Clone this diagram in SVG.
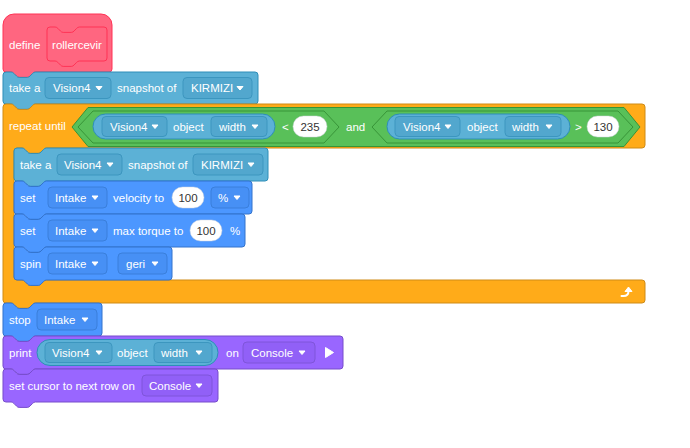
<svg xmlns="http://www.w3.org/2000/svg" width="690" height="448" viewBox="0 0 690 448">
<defs>
<style>
.t{font-family:"Liberation Sans",Arial,Helvetica,sans-serif;font-size:11.5px;fill:#fff}
.n{fill:#333;text-anchor:middle}
.mid{text-anchor:middle}
.blk{stroke-width:1;stroke-linejoin:round}
.pink{fill:#FF6680;stroke:#FF3355}
.vis{fill:#5CB1D6;stroke:#2E8EB8}
.mot{fill:#4C97FF;stroke:#3373CC}
.ctl{fill:#FFAB19;stroke:#CF8B17}
.op{fill:#59C059;stroke:#389438}
.pur{fill:#9966FF;stroke:#774DCB}
.ddv{fill:#52A7CE;stroke:#3C96BF;stroke-width:1}
.ddm{fill:#4790F5;stroke:#3A7FDB;stroke-width:1}
.ddp{fill:#9160F7;stroke:#7F55DA;stroke-width:1}
.num{fill:#fff;stroke:#d0d4dc;stroke-width:.5}
.car{fill:#fff;stroke:#fff;stroke-width:1;stroke-linejoin:round}
</style>
</defs>
<rect width="690" height="448" fill="#fff"/>

<g id="define-rollercevir">
<path class="blk pink" d="M3,25 a11,11 0 0 1 11,-11 H101 a11,11 0 0 1 11,11 V69 a3,3 0 0 1 -3,3 H35.4 c-1.35,0 -2,.7 -2.7,1.35 l-2.7,2.7 c-.7,.7 -1.35,1.35 -2.7,1.35 h-8.1 c-1.35,0 -2,-.7 -2.7,-1.35 l-2.7,-2.7 c-.7,-.7 -1.35,-1.35 -2.7,-1.35 H6 a3,3 0 0 1 -3,-3 Z"/>
<path class="blk pink" d="M47,30 a3,3 0 0 1 3,-3 h5.1 c1.35,0 2,.7 2.7,1.35 l2.7,2.7 c.7,.7 1.35,1.35 2.7,1.35 h8.1 c1.35,0 2,-.7 2.7,-1.35 l2.7,-2.7 c.7,-.7 1.35,-1.35 2.7,-1.35 h24.6 a3,3 0 0 1 3,3 v28 a3,3 0 0 1 -3,3 h-24.6 c-1.35,0 -2,.7 -2.7,1.35 l-2.7,2.7 c-.7,.7 -1.35,1.35 -2.7,1.35 h-8.1 c-1.35,0 -2,-.7 -2.7,-1.35 l-2.7,-2.7 c-.7,-.7 -1.35,-1.35 -2.7,-1.35 h-5.1 a3,3 0 0 1 -3,-3 z"/>
<text class="t" x="9" y="48.5">define</text>
<text class="t mid" x="77" y="48.5">rollercevir</text>
</g>

<g id="take-snapshot-1">
<path class="blk vis" d="M3,75 a3,3 0 0 1 3,-3 h5.1 c1.35,0 2,.7 2.7,1.35 l2.7,2.7 c.7,.7 1.35,1.35 2.7,1.35 h8.1 c1.35,0 2,-.7 2.7,-1.35 l2.7,-2.7 c.7,-.7 1.35,-1.35 2.7,-1.35 h219.6 a3,3 0 0 1 3,3 v26 a3,3 0 0 1 -3,3 h-219.6 c-1.35,0 -2,.7 -2.7,1.35 l-2.7,2.7 c-.7,.7 -1.35,1.35 -2.7,1.35 h-8.1 c-1.35,0 -2,-.7 -2.7,-1.35 l-2.7,-2.7 c-.7,-.7 -1.35,-1.35 -2.7,-1.35 h-5.1 a3,3 0 0 1 -3,-3 z"/>
<text class="t" x="9" y="92">take a</text>
<rect class="ddv" x="45" y="77.5" width="66" height="21" rx="4"/>
<text class="t" x="53" y="92">Vision4</text>
<path class="car" d="M96,86.5 h6 l-3,3.5 z"/>
<text class="t" x="117" y="92">snapshot of</text>
<rect class="ddv" x="183" y="77.5" width="69" height="21" rx="4"/>
<text class="t" x="191" y="92">KIRMIZI</text>
<path class="car" d="M237,86.5 h6 l-3,3.5 z"/>
</g>

<g id="repeat-until">
<path class="blk ctl" d="M3,107 a3,3 0 0 1 3,-3 h5.1 c1.35,0 2,.7 2.7,1.35 l2.7,2.7 c.7,.7 1.35,1.35 2.7,1.35 h8.1 c1.35,0 2,-.7 2.7,-1.35 l2.7,-2.7 c.7,-.7 1.35,-1.35 2.7,-1.35 H642 a3,3 0 0 1 3,3 V145 a3,3 0 0 1 -3,3 H46.4 c-1.35,0 -2,.7 -2.7,1.35 l-2.7,2.7 c-.7,.7 -1.35,1.35 -2.7,1.35 h-8.1 c-1.35,0 -2,-.7 -2.7,-1.35 l-2.7,-2.7 c-.7,-.7 -1.35,-1.35 -2.7,-1.35 H17 a3,3 0 0 0 -3,3 V277 a3,3 0 0 0 3,3 H22.1 c1.35,0 2,.7 2.7,1.35 l2.7,2.7 c.7,.7 1.35,1.35 2.7,1.35 h8.1 c1.35,0 2,-.7 2.7,-1.35 l2.7,-2.7 c.7,-.7 1.35,-1.35 2.7,-1.35 H642 a3,3 0 0 1 3,3 V300 a3,3 0 0 1 -3,3 H35.4 c-1.35,0 -2,.7 -2.7,1.35 l-2.7,2.7 c-.7,.7 -1.35,1.35 -2.7,1.35 h-8.1 c-1.35,0 -2,-.7 -2.7,-1.35 l-2.7,-2.7 c-.7,-.7 -1.35,-1.35 -2.7,-1.35 H6 a3,3 0 0 1 -3,-3 Z"/>
<text class="t" x="9" y="130">repeat until</text>
<path d="M621.5,296 H623.5 Q628.5,296 628.5,291" fill="none" stroke="#fff" stroke-width="2" stroke-linecap="round"/>
<path class="car" d="M625,291.5 L628.5,287 L632,291.5 Z"/>
</g>

<g id="and-condition">
<path class="blk op" d="M72,127 L88,107.5 H624 L640,127 L624,146.5 H88 Z"/>
<path class="blk op" d="M78,127 L93,111 H324 L339,127 L324,143 H93 Z"/>
<path class="blk op" d="M372,127 L387,111 H618 L633,127 L618,143 H387 Z"/>
<rect class="blk vis" x="93" y="114" width="182" height="25" rx="12.5"/>
<rect class="ddv" x="102" y="116.5" width="65" height="20" rx="4"/>
<text class="t" x="110" y="130.5">Vision4</text>
<path class="car" d="M152,125 h6 l-3,3.5 z"/>
<text class="t" x="173" y="130.5">object</text>
<rect class="ddv" x="211" y="116.5" width="56" height="20" rx="4"/>
<text class="t" x="219" y="130.5">width</text>
<path class="car" d="M252,125 h6 l-3,3.5 z"/>
<text class="t" x="282" y="130.5">&lt;</text>
<rect class="num" x="293" y="116" width="34" height="21" rx="10.5"/>
<text class="t n" x="310" y="130.5">235</text>
<text class="t" x="346" y="130.5">and</text>
<rect class="blk vis" x="387" y="114" width="183" height="25" rx="12.5"/>
<rect class="ddv" x="395" y="116.5" width="65" height="20" rx="4"/>
<text class="t" x="403" y="130.5">Vision4</text>
<path class="car" d="M445,125 h6 l-3,3.5 z"/>
<text class="t" x="467" y="130.5">object</text>
<rect class="ddv" x="505" y="116.5" width="56" height="20" rx="4"/>
<text class="t" x="512" y="130.5">width</text>
<path class="car" d="M546,125 h6 l-3,3.5 z"/>
<text class="t" x="575" y="130.5">&gt;</text>
<rect class="num" x="587" y="116" width="32" height="21" rx="10.5"/>
<text class="t n" x="603" y="130.5">130</text>
</g>

<g id="take-snapshot-2">
<path class="blk vis" d="M14,151 a3,3 0 0 1 3,-3 h5.1 c1.35,0 2,.7 2.7,1.35 l2.7,2.7 c.7,.7 1.35,1.35 2.7,1.35 h8.1 c1.35,0 2,-.7 2.7,-1.35 l2.7,-2.7 c.7,-.7 1.35,-1.35 2.7,-1.35 h218.6 a3,3 0 0 1 3,3 v27 a3,3 0 0 1 -3,3 h-218.6 c-1.35,0 -2,.7 -2.7,1.35 l-2.7,2.7 c-.7,.7 -1.35,1.35 -2.7,1.35 h-8.1 c-1.35,0 -2,-.7 -2.7,-1.35 l-2.7,-2.7 c-.7,-.7 -1.35,-1.35 -2.7,-1.35 h-5.1 a3,3 0 0 1 -3,-3 z"/>
<text class="t" x="20" y="168.5">take a</text>
<rect class="ddv" x="57" y="154" width="65" height="21" rx="4"/>
<text class="t" x="64" y="168.5">Vision4</text>
<path class="car" d="M107,163 h6 l-3,3.5 z"/>
<text class="t" x="128" y="168.5">snapshot of</text>
<rect class="ddv" x="193" y="154" width="70" height="21" rx="4"/>
<text class="t" x="201" y="168.5">KIRMIZI</text>
<path class="car" d="M248,163 h6 l-3,3.5 z"/>
</g>

<g id="set-velocity">
<path class="blk mot" d="M14,184 a3,3 0 0 1 3,-3 h5.1 c1.35,0 2,.7 2.7,1.35 l2.7,2.7 c.7,.7 1.35,1.35 2.7,1.35 h8.1 c1.35,0 2,-.7 2.7,-1.35 l2.7,-2.7 c.7,-.7 1.35,-1.35 2.7,-1.35 h202.6 a3,3 0 0 1 3,3 v27 a3,3 0 0 1 -3,3 h-202.6 c-1.35,0 -2,.7 -2.7,1.35 l-2.7,2.7 c-.7,.7 -1.35,1.35 -2.7,1.35 h-8.1 c-1.35,0 -2,-.7 -2.7,-1.35 l-2.7,-2.7 c-.7,-.7 -1.35,-1.35 -2.7,-1.35 h-5.1 a3,3 0 0 1 -3,-3 z"/>
<text class="t" x="20" y="201.5">set</text>
<rect class="ddm" x="48" y="187" width="59" height="21" rx="4"/>
<text class="t" x="55" y="201.5">Intake</text>
<path class="car" d="M92,196 h6 l-3,3.5 z"/>
<text class="t" x="113" y="201.5">velocity to</text>
<rect class="num" x="172" y="187" width="32" height="21" rx="10.5"/>
<text class="t n" x="188" y="201.5">100</text>
<rect class="ddm" x="211" y="187" width="38" height="21" rx="4"/>
<text class="t" x="218" y="201.5">%</text>
<path class="car" d="M234,196 h6 l-3,3.5 z"/>
</g>

<g id="set-torque">
<path class="blk mot" d="M14,217 a3,3 0 0 1 3,-3 h5.1 c1.35,0 2,.7 2.7,1.35 l2.7,2.7 c.7,.7 1.35,1.35 2.7,1.35 h8.1 c1.35,0 2,-.7 2.7,-1.35 l2.7,-2.7 c.7,-.7 1.35,-1.35 2.7,-1.35 h195.6 a3,3 0 0 1 3,3 v27 a3,3 0 0 1 -3,3 h-195.6 c-1.35,0 -2,.7 -2.7,1.35 l-2.7,2.7 c-.7,.7 -1.35,1.35 -2.7,1.35 h-8.1 c-1.35,0 -2,-.7 -2.7,-1.35 l-2.7,-2.7 c-.7,-.7 -1.35,-1.35 -2.7,-1.35 h-5.1 a3,3 0 0 1 -3,-3 z"/>
<text class="t" x="20" y="234.5">set</text>
<rect class="ddm" x="48" y="220" width="59" height="21" rx="4"/>
<text class="t" x="55" y="234.5">Intake</text>
<path class="car" d="M92,229 h6 l-3,3.5 z"/>
<text class="t" x="113" y="234.5">max torque to</text>
<rect class="num" x="190" y="220" width="32" height="21" rx="10.5"/>
<text class="t n" x="206" y="234.5">100</text>
<text class="t" x="230" y="234.5">%</text>
</g>

<g id="spin">
<path class="blk mot" d="M14,250 a3,3 0 0 1 3,-3 h5.1 c1.35,0 2,.7 2.7,1.35 l2.7,2.7 c.7,.7 1.35,1.35 2.7,1.35 h8.1 c1.35,0 2,-.7 2.7,-1.35 l2.7,-2.7 c.7,-.7 1.35,-1.35 2.7,-1.35 h122.6 a3,3 0 0 1 3,3 v27 a3,3 0 0 1 -3,3 h-122.6 c-1.35,0 -2,.7 -2.7,1.35 l-2.7,2.7 c-.7,.7 -1.35,1.35 -2.7,1.35 h-8.1 c-1.35,0 -2,-.7 -2.7,-1.35 l-2.7,-2.7 c-.7,-.7 -1.35,-1.35 -2.7,-1.35 h-5.1 a3,3 0 0 1 -3,-3 z"/>
<text class="t" x="20" y="267.5">spin</text>
<rect class="ddm" x="48" y="253" width="59" height="21" rx="4"/>
<text class="t" x="55" y="267.5">Intake</text>
<path class="car" d="M92,262 h6 l-3,3.5 z"/>
<rect class="ddm" x="118" y="253" width="49" height="21" rx="4"/>
<text class="t" x="126" y="267.5">geri</text>
<path class="car" d="M152,262 h6 l-3,3.5 z"/>
</g>

<g id="stop">
<path class="blk mot" d="M3,306 a3,3 0 0 1 3,-3 h5.1 c1.35,0 2,.7 2.7,1.35 l2.7,2.7 c.7,.7 1.35,1.35 2.7,1.35 h8.1 c1.35,0 2,-.7 2.7,-1.35 l2.7,-2.7 c.7,-.7 1.35,-1.35 2.7,-1.35 h63.6 a3,3 0 0 1 3,3 v27 a3,3 0 0 1 -3,3 h-63.6 c-1.35,0 -2,.7 -2.7,1.35 l-2.7,2.7 c-.7,.7 -1.35,1.35 -2.7,1.35 h-8.1 c-1.35,0 -2,-.7 -2.7,-1.35 l-2.7,-2.7 c-.7,-.7 -1.35,-1.35 -2.7,-1.35 h-5.1 a3,3 0 0 1 -3,-3 z"/>
<text class="t" x="9" y="323.5">stop</text>
<rect class="ddm" x="37" y="309" width="60" height="21" rx="4"/>
<text class="t" x="44" y="323.5">Intake</text>
<path class="car" d="M82,318 h6 l-3,3.5 z"/>
</g>

<g id="print">
<path class="blk pur" d="M3,339 a3,3 0 0 1 3,-3 h5.1 c1.35,0 2,.7 2.7,1.35 l2.7,2.7 c.7,.7 1.35,1.35 2.7,1.35 h8.1 c1.35,0 2,-.7 2.7,-1.35 l2.7,-2.7 c.7,-.7 1.35,-1.35 2.7,-1.35 h304.6 a3,3 0 0 1 3,3 v27 a3,3 0 0 1 -3,3 h-304.6 c-1.35,0 -2,.7 -2.7,1.35 l-2.7,2.7 c-.7,.7 -1.35,1.35 -2.7,1.35 h-8.1 c-1.35,0 -2,-.7 -2.7,-1.35 l-2.7,-2.7 c-.7,-.7 -1.35,-1.35 -2.7,-1.35 h-5.1 a3,3 0 0 1 -3,-3 z"/>
<text class="t" x="9" y="356.5">print</text>
<rect class="blk vis" x="37" y="339.5" width="181" height="26" rx="13"/>
<rect class="ddv" x="45" y="342.5" width="67" height="20" rx="4"/>
<text class="t" x="52" y="356.5">Vision4</text>
<path class="car" d="M96,351 h6 l-3,3.5 z"/>
<text class="t" x="117" y="356.5">object</text>
<rect class="ddv" x="154" y="342.5" width="58" height="20" rx="4"/>
<text class="t" x="161" y="356.5">width</text>
<path class="car" d="M196,351 h6 l-3,3.5 z"/>
<text class="t" x="226" y="356.5">on</text>
<rect class="ddp" x="243" y="342" width="72" height="21" rx="4"/>
<text class="t" x="251" y="356.5">Console</text>
<path class="car" d="M299,351 h6 l-3,3.5 z"/>
<path class="car" d="M325.5,347.5 L333.5,352.5 L325.5,357.5 Z"/>
</g>

<g id="set-cursor">
<path class="blk pur" d="M3,372 a3,3 0 0 1 3,-3 h5.1 c1.35,0 2,.7 2.7,1.35 l2.7,2.7 c.7,.7 1.35,1.35 2.7,1.35 h8.1 c1.35,0 2,-.7 2.7,-1.35 l2.7,-2.7 c.7,-.7 1.35,-1.35 2.7,-1.35 h179.6 a3,3 0 0 1 3,3 v27 a3,3 0 0 1 -3,3 h-179.6 c-1.35,0 -2,.7 -2.7,1.35 l-2.7,2.7 c-.7,.7 -1.35,1.35 -2.7,1.35 h-8.1 c-1.35,0 -2,-.7 -2.7,-1.35 l-2.7,-2.7 c-.7,-.7 -1.35,-1.35 -2.7,-1.35 h-5.1 a3,3 0 0 1 -3,-3 z"/>
<text class="t" x="9" y="389.5">set cursor to next row on</text>
<rect class="ddp" x="142" y="375" width="70" height="21" rx="4"/>
<text class="t" x="149" y="389.5">Console</text>
<path class="car" d="M196,384 h6 l-3,3.5 z"/>
</g>
</svg>
